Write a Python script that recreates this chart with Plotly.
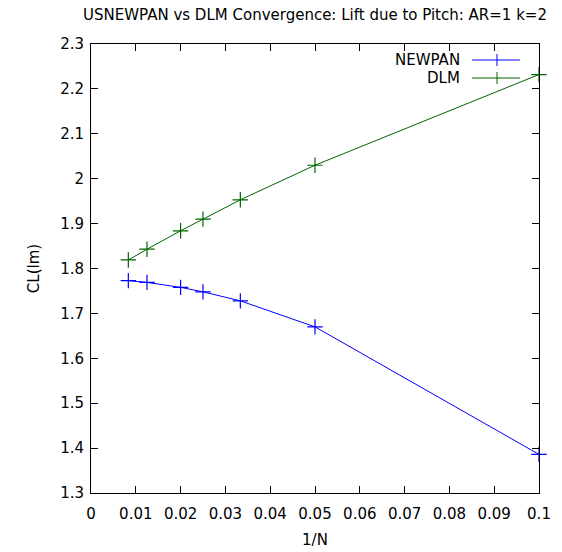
import plotly.graph_objects as go

inv_n = [1/120, 1/80, 1/50, 1/40, 1/30, 1/20, 1/10]
newpan = [1.773, 1.769, 1.758, 1.748, 1.728, 1.670, 1.386]
dlm = [1.819, 1.843, 1.884, 1.910, 1.953, 2.030, 2.232]
series_names = ["NEWPAN", "DLM"]
colors = ["#0000ff", "#006400"]

FONT = "DejaVu Sans"
FS = 15

fig = go.Figure()
for name, ys, c in zip(series_names, [newpan, dlm], colors):
    fig.add_trace(go.Scatter(
        x=inv_n, y=ys, mode="lines+markers", name=name,
        line=dict(color=c, width=1),
        marker=dict(symbol="cross-thin", size=11, line=dict(color=c, width=1.2)),
        cliponaxis=False, showlegend=False))

# manual gnuplot-style legend (text right of which sits the sample)
leg_y = [60, 78]
for i, (name, c) in enumerate(zip(series_names, colors)):
    yp = 1 - (leg_y[i] - 44) / 449
    fig.add_annotation(text=name, xref="paper", yref="paper",
                       x=(462 - 91) / 448, y=yp, xanchor="right", yanchor="middle",
                       showarrow=False, font=dict(family=FONT, size=FS, color="black"))
    fig.add_shape(type="line", xref="paper", yref="paper",
                  x0=(472 - 91) / 448, x1=(520 - 91) / 448, y0=yp, y1=yp,
                  line=dict(color=c, width=1))
    fig.add_shape(type="line", xref="paper", yref="paper",
                  x0=(497 - 91) / 448, x1=(497 - 91) / 448,
                  y0=yp - 6 / 449, y1=yp + 6 / 449,
                  line=dict(color=c, width=1))

axis_common = dict(showgrid=False, zeroline=False, showline=True, linecolor="black",
                   linewidth=1, mirror="allticks", ticks="inside", ticklen=7,
                   tickcolor="black", tickwidth=1, automargin=False,
                   tickfont=dict(family=FONT, size=FS, color="black"))

fig.update_layout(
    width=562, height=552,
    margin=dict(l=91, r=23, t=44, b=59),
    paper_bgcolor="white", plot_bgcolor="white",
    title=dict(text="USNEWPAN vs DLM Convergence: Lift due to Pitch: AR=1 k=2",
               x=315 / 562, xanchor="center", y=1 - 15 / 552, yanchor="middle",
               font=dict(family=FONT, size=15, color="black")),
    xaxis=dict(range=[0, 0.1], dtick=0.01, tick0=0, ticklabelstandoff=7,
               title=dict(text="1/N", font=dict(family=FONT, size=FS, color="black"), standoff=12),
               **axis_common),
    yaxis=dict(range=[1.3, 2.3], dtick=0.1, tick0=1.3, ticklabelstandoff=3,
               title=dict(text="CL(lm)", font=dict(family=FONT, size=FS, color="black"), standoff=16),
               **axis_common),
)

fig.write_html("out.html")
